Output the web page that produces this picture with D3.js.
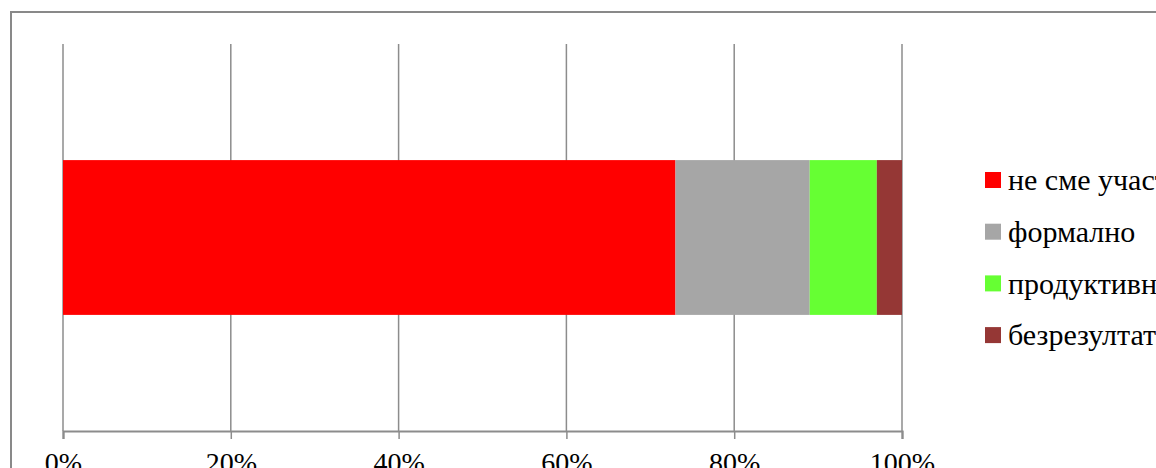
<!DOCTYPE html>
<html><head><meta charset="utf-8">
<script src="https://cdn.jsdelivr.net/npm/d3@7/dist/d3.min.js"></script>
<style>html,body{margin:0;padding:0;background:#fff;overflow:hidden}
svg text{font-family:"Liberation Serif","DejaVu Serif",serif;}</style>
</head><body>
<svg id="c" width="1156" height="468"></svg>
<script>
const categories = ["1"];
const seriesNames = ["не сме участвали", "формално", "продуктивно", "безрезултатно"];
const seriesValues = [73, 16, 8, 3];
const seriesColors = ["#FF0000", "#A6A6A6", "#66FF33", "#953735"];
const tickValues = [0, 20, 40, 60, 80, 100];
const tickLabels = ["0%", "20%", "40%", "60%", "80%", "100%"];

const svg = d3.select("#c");

// chart frame
svg.append("rect").attr("x", 11).attr("y", 12).attr("width", 1300).attr("height", 600)
  .attr("fill", "none").attr("stroke", "#898989").attr("stroke-width", 2);

const x = d3.scaleLinear().domain([0, 100]).range([63, 902]);
const y = d3.scaleBand().domain(categories).range([44, 431]).paddingInner(0.6).paddingOuter(0.3);

// gridlines
svg.append("g").selectAll("line").data(tickValues).join("line")
  .attr("x1", d => x(d)).attr("x2", d => x(d)).attr("y1", 44).attr("y2", 431)
  .attr("stroke", "#8c8c8c").attr("stroke-width", 1.5);

// stacked bars
const stackData = [Object.fromEntries(seriesNames.map((n, i) => [n, seriesValues[i]]))];
const stack = d3.stack().keys(seriesNames)(stackData);
svg.append("g").selectAll("rect").data(stack).join("rect")
  .attr("x", d => x(d[0][0])).attr("width", d => x(d[0][1]) - x(d[0][0]))
  .attr("y", y(categories[0])).attr("height", y.bandwidth())
  .attr("fill", (d, i) => seriesColors[i]);

// axis
const axis = d3.axisBottom(x).tickValues(tickValues).tickSize(8).tickPadding(13)
  .tickFormat((d, i) => tickLabels[i]);
const ag = svg.append("g").attr("transform", "translate(0,431)").call(axis);
ag.attr("font-family", null).attr("font-size", null);
ag.select(".domain").attr("stroke", "#8c8c8c").attr("stroke-width", 2.2);
ag.selectAll(".tick line").attr("stroke", "#8c8c8c").attr("stroke-width", 1.5);
ag.selectAll(".tick text").attr("font-size", 28).attr("fill", "#000");

// legend
const lg = svg.append("g");
const rows = lg.selectAll("g").data(seriesNames).join("g")
  .attr("transform", (d, i) => `translate(985,${180 + i * 51.7})`);
rows.append("rect").attr("x", 0).attr("y", -8).attr("width", 16).attr("height", 16)
  .attr("fill", (d, i) => seriesColors[i]);
rows.append("text").attr("x", 23).attr("y", 0).attr("dy", "0.34em")
  .attr("font-size", 30).attr("fill", "#000").text(d => d);
</script>
</body></html>
